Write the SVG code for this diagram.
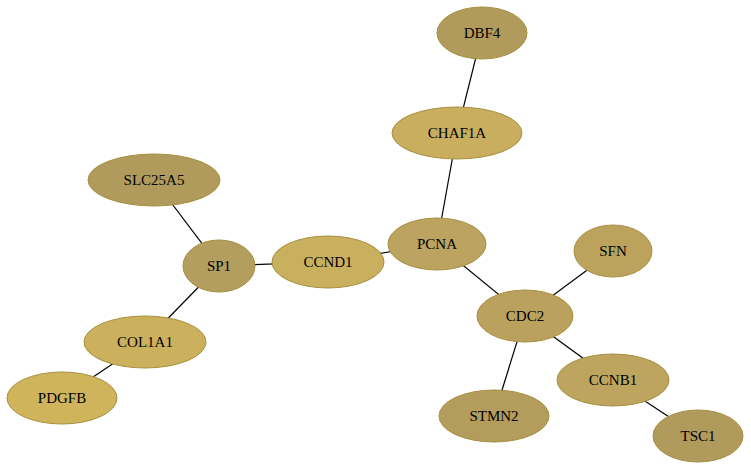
<svg xmlns="http://www.w3.org/2000/svg" width="751" height="471" viewBox="0 0 751 471">
<style>
.n ellipse{stroke:#a8903f;stroke-width:1}
.n text{fill:#000;text-anchor:middle;font-family:'Liberation Serif','DejaVu Serif','Times New Roman',serif;font-size:15px}
#edges line{stroke:#000;stroke-width:1.2}
</style>
<rect width="751" height="471" fill="#fff"/>
<g id="edges">
<line x1="482" y1="33" x2="457" y2="133"/>
<line x1="457" y1="133" x2="437" y2="244"/>
<line x1="154" y1="180" x2="219" y2="266"/>
<line x1="219" y1="266" x2="328" y2="262"/>
<line x1="328" y1="262" x2="437" y2="244"/>
<line x1="219" y1="266" x2="145" y2="342"/>
<line x1="145" y1="342" x2="62" y2="398"/>
<line x1="437" y1="244" x2="525" y2="316"/>
<line x1="613" y1="251" x2="525" y2="316"/>
<line x1="525" y1="316" x2="494" y2="416"/>
<line x1="525" y1="316" x2="613" y2="380"/>
<line x1="613" y1="380" x2="698" y2="436"/>
</g>
<g id="DBF4" class="n"><ellipse cx="482" cy="33" rx="45" ry="26" fill="#b09a5c"/><text x="482" y="38">DBF4</text></g>
<g id="CHAF1A" class="n"><ellipse cx="457" cy="133" rx="65" ry="26" fill="#c8ae5e"/><text x="457" y="138">CHAF1A</text></g>
<g id="SLC25A5" class="n"><ellipse cx="154" cy="180" rx="66" ry="26" fill="#b09b5d"/><text x="154" y="185">SLC25A5</text></g>
<g id="SP1" class="n"><ellipse cx="219" cy="266" rx="36" ry="26" fill="#b39d5f"/><text x="219" y="271">SP1</text></g>
<g id="CCND1" class="n"><ellipse cx="328" cy="262" rx="56" ry="26" fill="#c9b05e"/><text x="328" y="267">CCND1</text></g>
<g id="PCNA" class="n"><ellipse cx="437" cy="244" rx="49" ry="26" fill="#bca35f"/><text x="437" y="249">PCNA</text></g>
<g id="SFN" class="n"><ellipse cx="613" cy="251" rx="39" ry="26" fill="#bba35e"/><text x="613" y="256">SFN</text></g>
<g id="CDC2" class="n"><ellipse cx="525" cy="316" rx="48" ry="26" fill="#baa25e"/><text x="525" y="321">CDC2</text></g>
<g id="COL1A1" class="n"><ellipse cx="145" cy="342" rx="61" ry="26" fill="#cbb15e"/><text x="145" y="347">COL1A1</text></g>
<g id="PDGFB" class="n"><ellipse cx="62" cy="398" rx="55" ry="26" fill="#cfb45c"/><text x="62" y="403">PDGFB</text></g>
<g id="CCNB1" class="n"><ellipse cx="613" cy="380" rx="56" ry="26" fill="#bda45f"/><text x="613" y="385">CCNB1</text></g>
<g id="STMN2" class="n"><ellipse cx="494" cy="416" rx="55" ry="26" fill="#b39c5c"/><text x="494" y="421">STMN2</text></g>
<g id="TSC1" class="n"><ellipse cx="698" cy="436" rx="45" ry="26" fill="#b09a5c"/><text x="698" y="441">TSC1</text></g>
</svg>
